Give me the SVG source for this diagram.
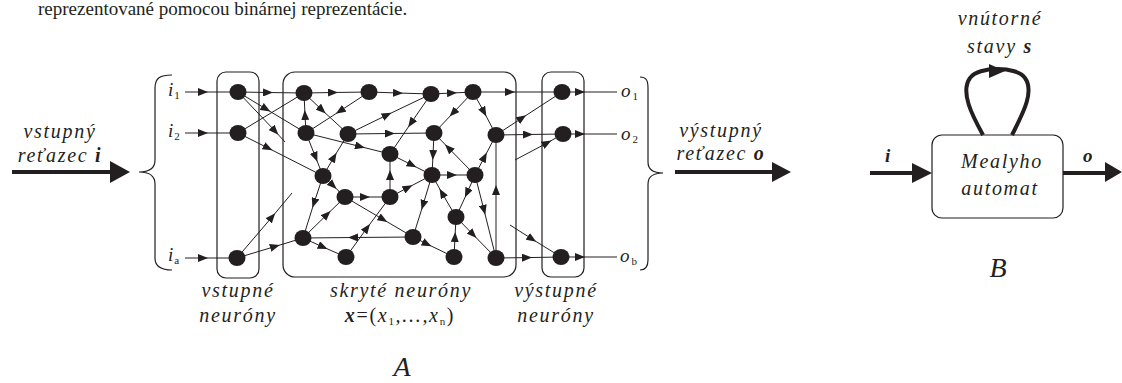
<svg xmlns="http://www.w3.org/2000/svg" width="1122" height="383" viewBox="0 0 1122 383">
<defs>
<marker id="a" viewBox="0 0 10 8" refX="5" refY="4" markerWidth="10" markerHeight="8" markerUnits="userSpaceOnUse" orient="auto">
<path d="M0,0 L10,4 L0,8 z" fill="#231f20"/>
</marker>
</defs>
<style>
.ln{stroke:#231f20;stroke-width:1;fill:none;marker-mid:url(#a)}
.pl{stroke:#231f20;stroke-width:1;fill:none}
.nd{fill:#231f20}
.box{fill:none;stroke:#231f20;stroke-width:1.2}
.br{fill:none;stroke:#231f20;stroke-width:1.2}
.thk{stroke:#231f20;stroke-width:4;fill:none}
.hd{fill:#231f20}
.t{font-style:italic;font-size:20px;letter-spacing:1.7px;fill:#231f20}
.c{text-anchor:middle}
.lb{font-style:italic;font-size:19px;fill:#231f20}
.sub{font-size:11px;font-style:normal}
.bd{font-weight:bold}
.big{font-style:italic;font-size:28px;fill:#231f20;text-anchor:middle}
.top{font-size:19px;fill:#231f20}
</style>
<rect width="1122" height="383" fill="#ffffff"/>
<g font-family="Liberation Serif, Times New Roman, serif">
<text class="top" x="38" y="15">reprezentované pomocou binárnej reprezentácie.</text>

<!-- Part A -->
<g id="inputText">
<text class="t c" x="60" y="138">vstupný</text>
<text class="t c" x="60" y="162">reťazec <tspan class="bd">i</tspan></text>
</g>
<g id="inputArrow">
<line class="thk" x1="12" y1="172" x2="112" y2="172"/>
<polygon class="hd" points="110,161 130,172 110,183"/>
</g>
<g id="leftBrace">
<path class="br" d="M172,75 C160,75 155,78 155,88 L155,160 C155,168 150,172 139,172 C150,172 155,176 155,184 L155,258 C155,266 160,270 172,270"/>
</g>
<g id="rightBrace">
<path class="br" d="M640,77 C646,77 648,80 648,88 L648,162 C648,169 652,173 663,173 C652,173 648,177 648,184 L648,260 C648,266 646,270 640,270"/>
</g>
<g id="outputText">
<text class="t c" x="721" y="137">výstupný</text>
<text class="t c" x="721" y="160">reťazec <tspan class="bd">o</tspan></text>
</g>
<g id="outputArrow">
<line class="thk" x1="675" y1="172" x2="774" y2="172"/>
<polygon class="hd" points="772,162 791,172 772,182"/>
</g>

<g id="inputLayer"><rect class="box" x="217" y="72" width="42" height="206" rx="9"/></g>
<g id="hiddenLayer"><rect class="box" x="283" y="72" width="233" height="205" rx="12"/></g>
<g id="outputLayer"><rect class="box" x="542" y="72" width="42" height="205" rx="9"/></g>

<g id="ioLabels">
<text class="lb" x="168" y="96">i<tspan class="sub" dx="1" dy="3">1</tspan></text>
<text class="lb" x="168" y="137">i<tspan class="sub" dx="1" dy="3">2</tspan></text>
<text class="lb" x="168" y="261">i<tspan class="sub" dx="1" dy="3" font-style="italic">a</tspan></text>
<text class="lb" x="621" y="97">o<tspan class="sub" dx="2" dy="3">1</tspan></text>
<text class="lb" x="621" y="140">o<tspan class="sub" dx="2" dy="3">2</tspan></text>
<text class="lb" x="620" y="262">o<tspan class="sub" dx="2" dy="3" font-style="italic">b</tspan></text>
</g>

<g id="connectors">
<path class="ln" d="M185,92 L203,92 L238,92"/>
<path class="ln" d="M185,133 L203,133 L238,133"/>
<path class="ln" d="M185,258 L203,258 L237,258"/>
<path class="ln" d="M238,92 L268,92.5 L304,93"/>
<path class="ln" d="M238,92 L266,109 L306,133"/>
<path class="ln" d="M238,92 L275,131 L285,142"/>
<path class="pl" d="M238,133 L304,93"/>
<path class="ln" d="M238,133 L268,148 L323,176"/>
<path class="ln" d="M237,258 L272,217 L292,193"/>
<path class="ln" d="M237,258 L275,246.5 L303,238"/>
<path class="ln" d="M304,93 L333,92.5 L369,92"/>
<path class="ln" d="M304,93 L322,110 L348,134"/>
<path class="ln" d="M306,133 L305,115 L304,93"/>
<path class="ln" d="M369,92 L340,111 L306,133"/>
<path class="ln" d="M369,92 L398,93 L431,94"/>
<path class="ln" d="M431,94 L452,93 L473,92"/>
<path class="ln" d="M473,92 L510,92 L562,92"/>
<path class="ln" d="M562,92 L580,92 L617,92"/>
<path class="ln" d="M306,133 L360,146.5 L390,154"/>
<path class="ln" d="M306,133 L315.5,157 L323,176"/>
<path class="ln" d="M323,176 L334,157 L348,134"/>
<path class="ln" d="M348,134 L387,115 L431,94"/>
<path class="ln" d="M348,134 L390,133.5 L434,133"/>
<path class="ln" d="M431,94 L411,123 L390,154"/>
<path class="ln" d="M473,92 L453,113 L434,133"/>
<path class="ln" d="M473,92 L484,112 L496,135"/>
<path class="ln" d="M496,135 L528,134.5 L563,134"/>
<path class="ln" d="M563,134 L580,134 L617,134"/>
<path class="ln" d="M496,135 L522,118 L562,92"/>
<path class="ln" d="M434,133 L433,155 L432,175"/>
<path class="ln" d="M475,175 L448.5,148 L434,133"/>
<path class="ln" d="M390,154 L412,165 L432,175"/>
<path class="ln" d="M496,258 L496,190 L496,135"/>
<path class="ln" d="M475,175 L484.5,157 L496,135"/>
<path class="ln" d="M432,175 L452,175 L475,175"/>
<path class="ln" d="M323,176 L333,185.5 L345,197"/>
<path class="ln" d="M323,176 L314,203 L303,238"/>
<path class="ln" d="M303,238 L327,214.5 L345,197"/>
<path class="ln" d="M345,197 L365,197 L390,197"/>
<path class="ln" d="M390,197 L390,175 L390,154"/>
<path class="ln" d="M390,197 L408,187.6 L432,175"/>
<path class="ln" d="M432,175 L423,205 L413,237"/>
<path class="ln" d="M456,217 L442,193 L432,175"/>
<path class="ln" d="M475,175 L467,193 L456,217"/>
<path class="ln" d="M475,175 L484,210 L496,258"/>
<path class="ln" d="M456,217 L473,234.5 L496,258"/>
<path class="ln" d="M454,257 L455,237 L456,217"/>
<path class="ln" d="M303,238 L323,247 L346,257"/>
<path class="ln" d="M413,237 L353,237.5 L303,238"/>
<path class="ln" d="M346,257 L367,228 L390,197"/>
<path class="ln" d="M345,197 L383,219.4 L413,237"/>
<path class="ln" d="M413,237 L427,244 L454,257"/>
<path class="ln" d="M496,258 L527,257.6 L561,257"/>
<path class="ln" d="M561,257 L580,257 L617,257"/>
<path class="ln" d="M510,225 L532,239 L561,257"/>
<path class="ln" d="M515,160 L547,143 L563,134"/>
</g>

<g id="nI1"><ellipse class="nd" cx="238" cy="92" rx="8.5" ry="8"/></g>
<g id="nI2"><ellipse class="nd" cx="238" cy="133" rx="8.5" ry="8"/></g>
<g id="nIA"><ellipse class="nd" cx="237" cy="258" rx="8.5" ry="8"/></g>
<g id="nO1"><ellipse class="nd" cx="562" cy="92" rx="8.5" ry="8"/></g>
<g id="nO2"><ellipse class="nd" cx="563" cy="134" rx="8.5" ry="8"/></g>
<g id="nOB"><ellipse class="nd" cx="561" cy="257" rx="8.5" ry="8"/></g>
<g id="nH1"><ellipse class="nd" cx="304" cy="93" rx="8.5" ry="8"/></g>
<g id="nH2"><ellipse class="nd" cx="369" cy="92" rx="8.5" ry="8"/></g>
<g id="nH3"><ellipse class="nd" cx="431" cy="94" rx="8.5" ry="8"/></g>
<g id="nH4"><ellipse class="nd" cx="473" cy="92" rx="8.5" ry="8"/></g>
<g id="nH5"><ellipse class="nd" cx="306" cy="133" rx="8.5" ry="8"/></g>
<g id="nH6"><ellipse class="nd" cx="348" cy="134" rx="8.5" ry="8"/></g>
<g id="nH7"><ellipse class="nd" cx="434" cy="133" rx="8.5" ry="8"/></g>
<g id="nH8"><ellipse class="nd" cx="496" cy="135" rx="8.5" ry="8"/></g>
<g id="nH9"><ellipse class="nd" cx="390" cy="154" rx="8.5" ry="8"/></g>
<g id="nH10"><ellipse class="nd" cx="323" cy="176" rx="8.5" ry="8"/></g>
<g id="nH11"><ellipse class="nd" cx="432" cy="175" rx="8.5" ry="8"/></g>
<g id="nH12"><ellipse class="nd" cx="475" cy="175" rx="8.5" ry="8"/></g>
<g id="nH13"><ellipse class="nd" cx="345" cy="197" rx="8.5" ry="8"/></g>
<g id="nH14"><ellipse class="nd" cx="390" cy="197" rx="8.5" ry="8"/></g>
<g id="nH15"><ellipse class="nd" cx="456" cy="217" rx="8.5" ry="8"/></g>
<g id="nH16"><ellipse class="nd" cx="303" cy="238" rx="8.5" ry="8"/></g>
<g id="nH17"><ellipse class="nd" cx="346" cy="257" rx="8.5" ry="8"/></g>
<g id="nH18"><ellipse class="nd" cx="413" cy="237" rx="8.5" ry="8"/></g>
<g id="nH19"><ellipse class="nd" cx="454" cy="257" rx="8.5" ry="8"/></g>
<g id="nH20"><ellipse class="nd" cx="496" cy="258" rx="8.5" ry="8"/></g>

<g id="layerLabels">
<text class="t c" x="238" y="297">vstupné</text>
<text class="t c" x="238" y="322">neuróny</text>
<text class="t c" x="401" y="297">skryté neuróny</text>
<text class="t c" x="400" y="322"><tspan class="bd">x</tspan><tspan font-style="normal">=(</tspan>x<tspan class="sub" dy="3">1</tspan><tspan dy="-3">,...,x</tspan><tspan class="sub" dy="3" font-style="italic">n</tspan><tspan dy="-3" font-style="normal">)</tspan></text>
<text class="t c" x="556" y="297">výstupné</text>
<text class="t c" x="556" y="322">neuróny</text>
<text class="big" x="402" y="376">A</text>
</g>

<!-- Part B -->
<g id="stateLabel">
<text class="t c" x="1000" y="25">vnútorné</text>
<text class="t c" x="1000" y="53">stavy <tspan class="bd">s</tspan></text>
</g>
<g id="mealy">
<rect class="box" x="932" y="135" width="131" height="83" rx="10" fill="#ffffff"/>
<text class="t c" x="1002" y="168">Mealyho</text>
<text class="t c" x="1000" y="195">automat</text>
</g>
<g id="loop">
<path class="thk" d="M983,135 C972,115 960,92 970,78 C978,66 1017,66 1025,78 C1035,92 1022,115 1012,135"/>
<polygon class="hd" points="989,64 1005,71 989,78"/>
</g>
<g id="bInput">
<line class="thk" x1="870" y1="173" x2="914" y2="173"/>
<polygon class="hd" points="912,163 932,173 912,183"/>
<text class="lb bd" x="885" y="162">i</text>
</g>
<g id="bOutput">
<line class="thk" x1="1063" y1="173" x2="1108" y2="173"/>
<polygon class="hd" points="1105,162 1122,172 1105,182"/>
<text class="lb bd" x="1083" y="162">o</text>
</g>
<text class="big" x="998" y="277">B</text>
</g>
</svg>
